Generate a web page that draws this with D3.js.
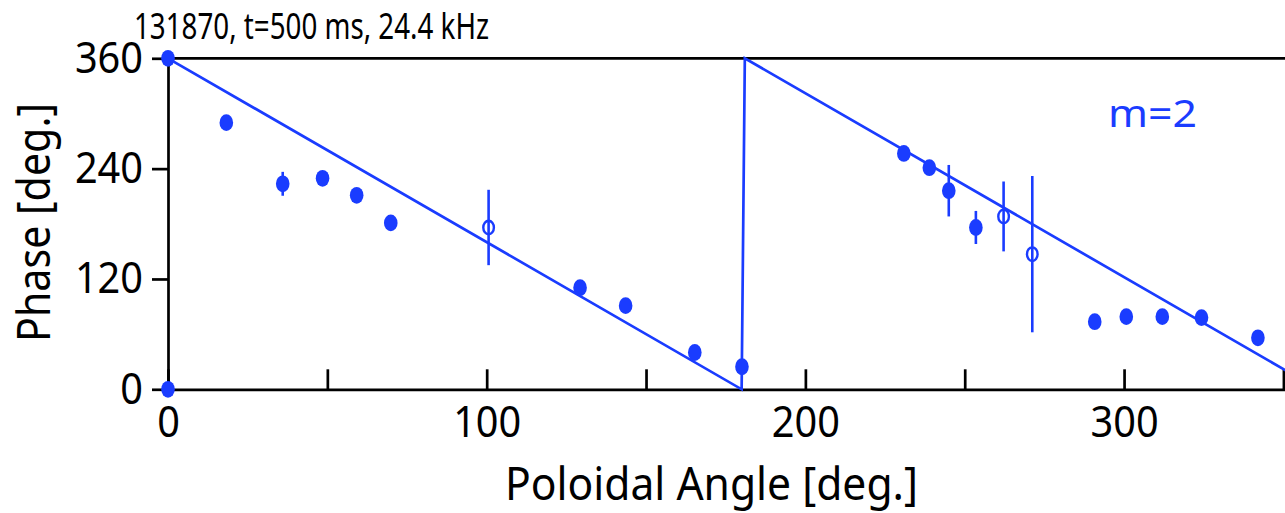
<!DOCTYPE html>
<html>
<head>
<meta charset="utf-8">
<script src="https://cdn.jsdelivr.net/npm/d3@7/dist/d3.min.js"></script>
<style>
  html, body { margin: 0; padding: 0; background: #fff; }
  svg { display: block; font-family: "Noto Sans", "Open Sans", sans-serif; }
</style>
</head>
<body>
<svg id="chart" width="1285" height="513"></svg>
<script>
// Measured poloidal phase of the 24.4 kHz mode (shot 131870, t = 500 ms)
const probeAngle   = [0, 0, 18.3, 36.0, 48.5, 59.2, 69.9, 129.3, 143.6, 165.3, 180.1,
                      230.9, 238.9, 245.0, 253.5, 290.8, 300.7, 312.0, 324.3, 342.0];
const probePhase   = [360, 0, 290, 223.5, 229.5, 211, 181, 110.5, 91, 40, 24.5,
                      256.5, 241, 216, 176, 73.5, 79, 79, 78, 56];
const probeError   = [0, 0, 0, 13, 0, 0, 0, 0, 0, 0, 0,
                      0, 0, 28, 18, 0, 0, 0, 0, 0];

// Low-coherence probes (open symbols)
const weakAngle    = [100.6, 262.2, 271.2];
const weakPhase    = [176, 188, 147];
const weakError    = [41, 38, 85];

// m=2 reference line, wrapped into [0, 360]
const fitAngle     = [0, 180, 181, 351];
const fitPhase     = [360, 0, 360, 20];

const xMajorTicks  = [0, 100, 200, 300];
const xMinorTicks  = [50, 150, 250, 350];
const yTicks       = [0, 120, 240, 360];

const titleText    = "131870, t=500 ms, 24.4 kHz";
const modeLabel    = "m=2";
const xLabel       = "Poloidal Angle [deg.]";
const yLabel       = "Phase [deg.]";

const blue = "#1a3cff";
const svg = d3.select("#chart");

const x = d3.scaleLinear().domain([0, 350.5]).range([168, 1285]);
const y = d3.scaleLinear().domain([0, 360]).range([389.3, 58.3]);

const digitW = 22.7;  // condensed digit advance

// top frame line
svg.append("line")
  .attr("x1", x(0)).attr("x2", x.range()[1])
  .attr("y1", y(360)).attr("y2", y(360))
  .attr("stroke", "#000").attr("stroke-width", 2.7);

// x axis: ticks point inward, labels only on the majors
const gx = svg.append("g").attr("transform", `translate(0,${y(0)})`);
gx.call(d3.axisBottom(x).tickValues(xMajorTicks).tickSizeInner(-20).tickSizeOuter(0)
  .tickPadding(16).tickFormat(d3.format("d")));
const gxm = svg.append("g").attr("transform", `translate(0,${y(0)})`);
gxm.call(d3.axisBottom(x).tickValues(xMinorTicks).tickSizeInner(-20).tickSizeOuter(0)
  .tickFormat(""));
gxm.select(".domain").remove();

// y axis: ticks point outward
const gy = svg.append("g").attr("transform", `translate(${x(0)},0)`);
gy.call(d3.axisLeft(y).tickValues(yTicks).tickSizeInner(16).tickSizeOuter(0)
  .tickPadding(9).tickFormat(d3.format("d")));

[gx, gxm, gy].forEach(g => {
  g.selectAll(".domain").attr("stroke", "#000").attr("stroke-width", 2.7);
  g.selectAll(".tick line").attr("stroke", "#000").attr("stroke-width", 2.7);
});
[gx, gy].forEach(g => {
  g.selectAll(".tick text")
    .attr("font-family", "Noto Sans")
    .attr("font-size", 43)
    .attr("fill", "#000")
    .attr("lengthAdjust", "spacingAndGlyphs")
    .attr("textLength", function() { return this.textContent.length * digitW; });
});
gx.selectAll(".tick text").attr("dy", "0.73em");

// title
svg.append("text")
  .attr("x", 134).attr("y", 39)
  .attr("font-size", 36)
  .attr("textLength", 355).attr("lengthAdjust", "spacingAndGlyphs")
  .text(titleText);

// axis titles
svg.append("text")
  .attr("x", 711.5).attr("y", 500)
  .attr("text-anchor", "middle")
  .attr("font-size", 45)
  .attr("textLength", 413).attr("lengthAdjust", "spacingAndGlyphs")
  .text(xLabel);

svg.append("text")
  .attr("transform", "translate(50,222.5) rotate(-90)")
  .attr("text-anchor", "middle")
  .attr("font-size", 46)
  .attr("textLength", 239).attr("lengthAdjust", "spacingAndGlyphs")
  .text(yLabel);

// mode label
svg.append("text")
  .attr("x", 1108).attr("y", 126.5)
  .attr("font-size", 38)
  .attr("fill", blue)
  .attr("textLength", 89).attr("lengthAdjust", "spacingAndGlyphs")
  .text(modeLabel);

// reference line
const fit = fitAngle.map((a, i) => [a, fitPhase[i]]);
svg.append("path")
  .datum(fit)
  .attr("fill", "none")
  .attr("stroke", blue)
  .attr("stroke-width", 2.7)
  .attr("d", d3.line().x(d => x(d[0])).y(d => y(d[1])));

// error bars
const solid = probeAngle.map((a, i) => ({a, p: probePhase[i], e: probeError[i]}));
const weak = weakAngle.map((a, i) => ({a, p: weakPhase[i], e: weakError[i]}));

svg.append("g").selectAll("line")
  .data(solid.concat(weak).filter(d => d.e > 0))
  .join("line")
  .attr("x1", d => x(d.a)).attr("x2", d => x(d.a))
  .attr("y1", d => y(d.p - d.e)).attr("y2", d => y(d.p + d.e))
  .attr("stroke", blue).attr("stroke-width", 2.6);

// filled symbols
svg.append("g").selectAll("ellipse")
  .data(solid)
  .join("ellipse")
  .attr("cx", d => x(d.a)).attr("cy", d => y(d.p))
  .attr("rx", 6.8).attr("ry", 8.4)
  .attr("fill", blue);

// open symbols
svg.append("g").selectAll("ellipse")
  .data(weak)
  .join("ellipse")
  .attr("cx", d => x(d.a)).attr("cy", d => y(d.p))
  .attr("rx", 5.3).attr("ry", 6.8)
  .attr("fill", "none")
  .attr("stroke", blue).attr("stroke-width", 2.4);
</script>
</body>
</html>
